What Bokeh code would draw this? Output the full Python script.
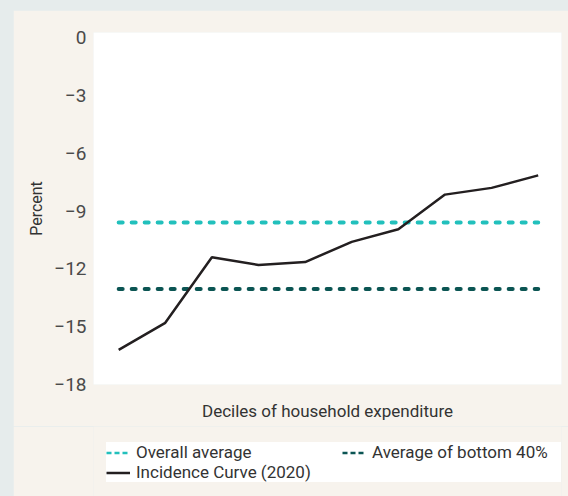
from bokeh.plotting import figure
from bokeh.models import Legend, LegendItem, FixedTicker, Range1d
from bokeh.layouts import column
from bokeh.embed import file_html
from bokeh.resources import INLINE

# ---- data ----
deciles = [1, 2, 3, 4, 5, 6, 7, 8, 9, 10]
incidence_2020 = [-16.2, -14.8, -11.4, -11.8, -11.65, -10.6, -9.95, -8.15, -7.8, -7.15]
overall_average = -9.6
bottom40_average = -13.05
y_ticks = [0, -3, -6, -9, -12, -15, -18]
y_tick_labels = ["0", "\u22123", "\u22126", "\u22129", "\u221212", "\u221215", "\u221218"]
series_names = ["Overall average", "Average of bottom 40%", "Incidence Curve (2020)"]

FONT = "Roboto"
BEIGE = "#f7f3ed"
GRAY = "#e6ecec"
TEAL = "#22c0bc"
DARK_TEAL = "#0b5553"
INK = "#231f20"


def draw_series(fig, dash_width, dash, cap):
    a = fig.line(x=[deciles[0], deciles[-1]], y=[overall_average, overall_average],
                 line_color=TEAL, line_width=dash_width, line_dash=dash, line_cap=cap)
    b = fig.line(x=[deciles[0], deciles[-1]], y=[bottom40_average, bottom40_average],
                 line_color=DARK_TEAL, line_width=dash_width, line_dash=dash, line_cap=cap)
    c = fig.line(x=deciles, y=incidence_2020, line_color=INK, line_width=2.5)
    return a, b, c


# ---------- main chart ----------
p = figure(width=555, height=416,
           output_backend="svg", toolbar_location=None,
           x_range=Range1d(0.46, 10.5), y_range=Range1d(-18, 0.26),
           min_border_left=80, min_border_top=22, min_border_right=7, min_border_bottom=42,
           background_fill_color="white", border_fill_color=BEIGE)
p.outline_line_color = None
p.grid.visible = False
draw_series(p, 4, "4 9", "round")

ya = p.yaxis[0]
ya.ticker = FixedTicker(ticks=y_ticks)
ya.major_label_overrides = {t: l for t, l in zip(y_ticks, y_tick_labels)}
ya.major_tick_line_color = None
ya.minor_tick_line_color = None
ya.axis_line_color = None
ya.major_label_standoff = 1
ya.major_label_text_font = FONT
ya.major_label_text_font_size = "19px"
ya.major_label_text_color = "#4a4a4a"
ya.axis_label = "Percent"
ya.axis_label_text_font = FONT
ya.axis_label_text_font_size = "16px"
ya.axis_label_text_font_style = "normal"
ya.axis_label_text_color = "#333333"
ya.axis_label_standoff = 5

xa = p.xaxis[0]
xa.ticker = FixedTicker(ticks=[])
xa.major_tick_line_color = None
xa.minor_tick_line_color = None
xa.axis_line_color = None
xa.major_label_standoff = 0
xa.axis_label = "Deciles of household expenditure"
xa.axis_label_text_font = FONT
xa.axis_label_text_font_size = "17px"
xa.axis_label_text_font_style = "normal"
xa.axis_label_text_color = "#333333"
xa.axis_label_standoff = 16

# ---------- legend strip (series drawn outside its visible range; only the legend shows) ----------
q = figure(width=555, height=70, output_backend="svg", toolbar_location=None,
           x_range=Range1d(0, 1), y_range=Range1d(100, 101),
           min_border_left=80, min_border_top=0, min_border_right=7, min_border_bottom=0,
           background_fill_color=BEIGE, border_fill_color=BEIGE)
q.axis.visible = False
q.grid.visible = False
q.outline_line_color = None
l1, l2, l3 = draw_series(q, 2.5, "5 3", "butt")

legend = Legend(items=[LegendItem(label=series_names[0], renderers=[l1]),
                       LegendItem(label=series_names[1], renderers=[l2]),
                       LegendItem(label=series_names[2], renderers=[l3])],
                orientation="horizontal", ncols=2,
                location=(13, 14), padding=8, spacing=0,
                glyph_width=24, glyph_height=19, label_height=19, label_width=206,
                label_standoff=6,
                label_text_font=FONT, label_text_font_size="17px", label_text_color="#333333",
                background_fill_color="white", background_fill_alpha=1.0,
                border_line_color=None)
q.add_layout(legend, "center")

p.margin = (10, 0, 0, 13)
q.margin = (0, 0, 0, 13)
layout = column(p, q, spacing=0, styles={"background-color": GRAY})

open("out.html", "w").write(file_html(layout, INLINE))
